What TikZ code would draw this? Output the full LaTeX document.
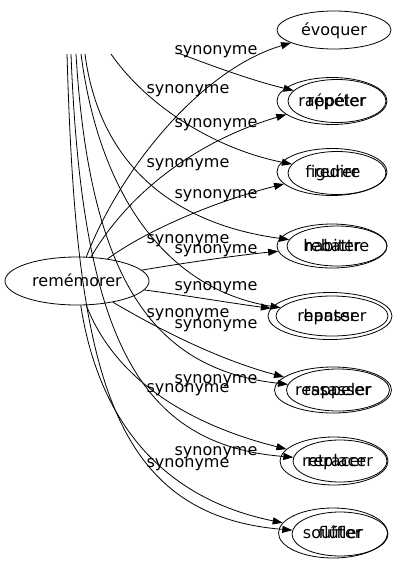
\documentclass[tikz,border=0pt]{standalone}
\usepackage{fontspec}
\setmainfont{DejaVu Sans}
\usetikzlibrary{arrows.meta,shapes.geometric}
\begin{document}
\begin{tikzpicture}[x=1pt,y=-1pt,
  ell/.style={draw, ellipse, inner sep=0pt, line width=0.8pt},
  word/.style={anchor=base, inner sep=0pt, font=\fontsize{16}{19}\selectfont},
  lbl/.style={anchor=base, inner sep=0pt, font=\fontsize{16}{19}\selectfont},
  syn/.style={line width=0.8pt, -{Triangle[length=10pt,width=7pt]}}]
\useasboundingbox (0,0) rectangle (400,563);
% source node
\node[ell, minimum width=144pt, minimum height=48pt] (rem) at (77,281) {};
\node[word] (tRem) at (77,286) {remémorer};
% target nodes
\node[ell, minimum width=114pt, minimum height=38pt] (n1) at (334,30) {};
\node[word] (t1) at (334,35) {évoquer};
\node[ell, minimum width=110pt, minimum height=47pt] (o2) at (332,101) {};
\node[ell, minimum width=98pt, minimum height=43pt] (i2) at (337,101) {};
\node[word] (to2) at (332,106) {rappeler};
\node[word] (ti2) at (337,106) {répéter};
\node[ell, minimum width=110pt, minimum height=47pt] (o3) at (332,172) {};
\node[ell, minimum width=98pt, minimum height=43pt] (i3) at (337,173) {};
\node[word] (to3) at (332,177) {figurer};
\node[word] (ti3) at (337,177) {redire};
\node[ell, minimum width=110pt, minimum height=44pt] (o4) at (332,246) {};
\node[ell, minimum width=100pt, minimum height=40pt] (i4) at (337,246) {};
\node[word] (to4) at (332,251) {habiter};
\node[word] (ti4) at (337,251) {rebattre};
\node[ell, minimum width=124pt, minimum height=47pt] (o5) at (330,316) {};
\node[ell, minimum width=112pt, minimum height=40pt] (i5) at (332,316) {};
\node[word] (to5) at (330,321) {hanter};
\node[word] (ti5) at (332,321) {repasser};
\node[ell, minimum width=117pt, minimum height=46pt] (o6) at (333,390) {};
\node[ell, minimum width=103pt, minimum height=42pt] (i6) at (338,390) {};
\node[word] (to6) at (333,395) {ressasser};
\node[word] (ti6) at (338,395) {rappeler};
\node[ell, minimum width=108pt, minimum height=48pt] (o7) at (334,461) {};
\node[ell, minimum width=94pt, minimum height=42pt] (i7) at (340,461) {};
\node[word] (to7) at (334,466) {retracer};
\node[word] (ti7) at (340,466) {replacer};
\node[ell, minimum width=109pt, minimum height=50pt] (o8) at (333,533) {};
\node[ell, minimum width=96pt, minimum height=44pt] (i8) at (340,534) {};
\node[word] (to8) at (333,538) {souffler};
\node[word] (ti8) at (340,538) {flûter};
% free ends of the edges entering from the top
\coordinate (s1) at (178,53);
\coordinate (s2) at (111,54);
\coordinate (s3) at (85,54);
\coordinate (s4) at (81,54);
\coordinate (s5) at (76,54);
\coordinate (s6) at (71,54);
\coordinate (s7) at (67,54);
% edges from remémorer
\draw[syn] (rem) .. controls (120,170) and (200,70) .. (n1);
\draw[syn] (rem) .. controls (130,190) and (200,140) .. (o2);
\draw[syn] (rem) .. controls (150,228) and (220,200) .. (o3);
\draw[syn] (rem) .. controls (190,262) and (240,255) .. (o4);
\draw[syn] (rem) .. controls (190,296) and (230,303) .. (o5);
\draw[syn] (rem) .. controls (160,330) and (220,360) .. (o6);
\draw[syn] (rem) .. controls (115,380) and (190,425) .. (o7);
\draw[syn] (rem) .. controls (100,430) and (170,500) .. (o8);
% edges from the top
\draw[syn] (s1) .. controls (210,65) and (250,80) .. (i2);
\draw[syn] (s2) .. controls (150,110) and (220,150) .. (i3);
\draw[syn] (s3) .. controls (100,170) and (180,225) .. (i4);
\draw[syn] (s4) .. controls (100,200) and (170,290) .. (i5);
\draw[syn] (s5) .. controls (90,290) and (160,370) .. (i6);
\draw[syn] (s6) .. controls (82,340) and (140,445) .. (i7);
\draw[syn] (s7) .. controls (76,360) and (105,515) .. (i8);
% labels
\node[lbl] (la1) at (216,54) {synonyme};
\node[lbl] (la2) at (216,127) {synonyme};
\node[lbl] (la3) at (216,198) {synonyme};
\node[lbl] (la4) at (216,253) {synonyme};
\node[lbl] (la5) at (216,290) {synonyme};
\node[lbl] (la6) at (216,328) {synonyme};
\node[lbl] (la7) at (216,383) {synonyme};
\node[lbl] (la8) at (216,455) {synonyme};
\node[lbl] (lb1) at (188,93) {synonyme};
\node[lbl] (lb2) at (188,167) {synonyme};
\node[lbl] (lb3) at (188,243) {synonyme};
\node[lbl] (lb4) at (188,317) {synonyme};
\node[lbl] (lb5) at (188,392) {synonyme};
\node[lbl] (lb6) at (188,467) {synonyme};
\end{tikzpicture}
\end{document}
